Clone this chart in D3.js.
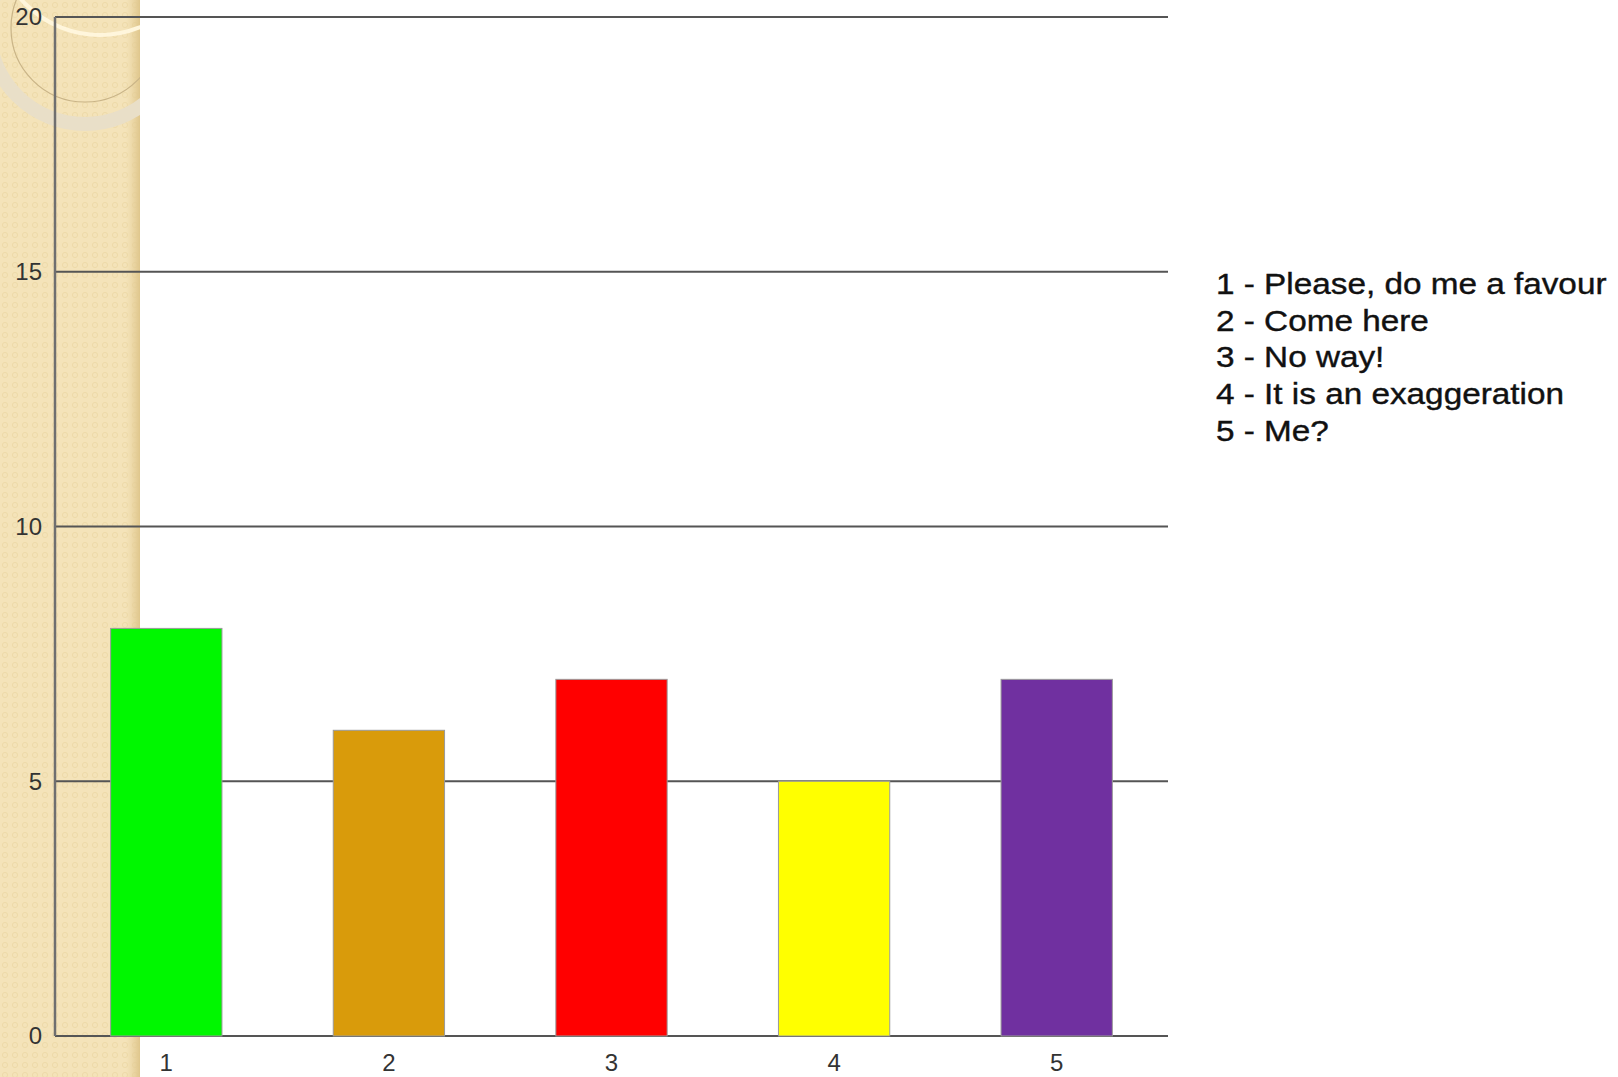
<!DOCTYPE html>
<html>
<head>
<meta charset="utf-8">
<script src="https://cdn.jsdelivr.net/npm/d3@7"></script>
<style>
  body { margin: 0; background: #fff; }
  svg { display: block; }
</style>
</head>
<body>
<div id="chart"></div>
<script>
const categories = ["1", "2", "3", "4", "5"];
const values = [8, 6, 7, 5, 7];
const barColors = ["#00f700", "#d99b0b", "#ff0000", "#ffff00", "#7030a0"];
const yTicks = [0, 5, 10, 15, 20];
const legendLabels = [
    "1 - Please, do me a favour",
    "2 - Come here",
    "3 - No way!",
    "4 - It is an exaggeration",
    "5 - Me?"
];

const width = 1618, height = 1077;
const plotLeft = 55, plotRight = 1168, plotBottom = 1036, plotTop = 17;

const svg = d3.select("#chart").append("svg")
    .attr("width", width)
    .attr("height", height);

/*
 *  Beige side stripe with its pattern and rings.
 */
let defs = svg.append("defs");
let pat = defs.append("pattern")
    .attr("id", "dots")
    .attr("width", 10).attr("height", 10)
    .attr("patternUnits", "userSpaceOnUse");
pat.append("rect").attr("width", 10).attr("height", 10).attr("fill", "#f4e3b9");
pat.append("circle").attr("cx", 5).attr("cy", 5).attr("r", 2.6)
    .attr("fill", "none").attr("stroke", "#eedaa8").attr("stroke-width", 1);

let grad = defs.append("linearGradient").attr("id", "edge");
grad.append("stop").attr("offset", "0").attr("stop-color", "#e6cf98").attr("stop-opacity", 0);
grad.append("stop").attr("offset", "1").attr("stop-color", "#dfc68c").attr("stop-opacity", 1);

defs.append("clipPath").attr("id", "stripClip")
    .append("rect").attr("width", 140).attr("height", height);

let strip = svg.append("g").attr("clip-path", "url(#stripClip)");
strip.append("rect").attr("width", 140).attr("height", height).attr("fill", "url(#dots)");
strip.append("rect").attr("x", 126).attr("width", 14).attr("height", height).attr("fill", "url(#edge)");
strip.append("circle").attr("cx", 85).attr("cy", 28).attr("r", 96)
    .attr("fill", "none").attr("stroke", "#e9dfc8").attr("stroke-width", 14);
strip.append("circle").attr("cx", 85).attr("cy", 28).attr("r", 74)
    .attr("fill", "none").attr("stroke", "#c9b487").attr("stroke-width", 1.2);
strip.append("circle").attr("cx", 100).attr("cy", -70).attr("r", 105)
    .attr("fill", "none").attr("stroke", "#fff6dc").attr("stroke-width", 4);

/*
 *  Scales.
 */
const x = d3.scaleBand()
    .domain(categories)
    .range([plotLeft, plotRight])
    .paddingInner(0.5)
    .paddingOuter(0.25);

const y = d3.scaleLinear()
    .domain([0, 20])
    .range([plotBottom, plotTop]);

// gridlines
svg.append("g")
    .selectAll("line")
    .data(yTicks)
    .join("line")
    .attr("x1", plotLeft).attr("x2", plotRight)
    .attr("y1", d => y(d)).attr("y2", d => y(d))
    .attr("stroke", "#555").attr("stroke-width", 2);

// vertical axis line
svg.append("line")
    .attr("x1", plotLeft).attr("x2", plotLeft)
    .attr("y1", y(20)).attr("y2", y(0))
    .attr("stroke", "#6f6f6f").attr("stroke-width", 2.5);

// y tick labels
svg.append("g")
    .selectAll("text")
    .data(yTicks)
    .join("text")
    .attr("x", 42)
    .attr("y", d => y(d))
    .attr("dy", "0.35em")
    .attr("text-anchor", "end")
    .attr("font-family", "Liberation Sans, Arial, sans-serif")
    .attr("font-size", 24)
    .attr("fill", "#333")
    .text(d => d);

// bars
svg.append("g")
    .selectAll("rect")
    .data(values)
    .join("rect")
    .attr("x", (d, i) => x(categories[i]))
    .attr("y", d => y(d))
    .attr("width", x.bandwidth())
    .attr("height", d => y(0) - y(d))
    .attr("fill", (d, i) => barColors[i])
    .attr("stroke", "#9a9a9a")
    .attr("stroke-width", 1);

// x tick labels
svg.append("g")
    .selectAll("text")
    .data(categories)
    .join("text")
    .attr("x", d => x(d) + x.bandwidth() / 2)
    .attr("y", 1063)
    .attr("dy", "0.35em")
    .attr("text-anchor", "middle")
    .attr("font-family", "Liberation Sans, Arial, sans-serif")
    .attr("font-size", 24)
    .attr("fill", "#333")
    .text(d => d);

// legend text, a bit wider than plain Arial
let legend = svg.append("g")
    .attr("transform", "translate(1216,294) scale(1.11,1)");

legend.selectAll("text")
    .data(legendLabels)
    .join("text")
    .attr("x", 0)
    .attr("y", (d, i) => i * 36.7)
    .attr("font-family", "Liberation Sans, Arial, sans-serif")
    .attr("font-size", 30)
    .attr("fill", "#111")
    .attr("stroke", "#111")
    .attr("stroke-width", 0.4)
    .text(d => d);
</script>
</body>
</html>
